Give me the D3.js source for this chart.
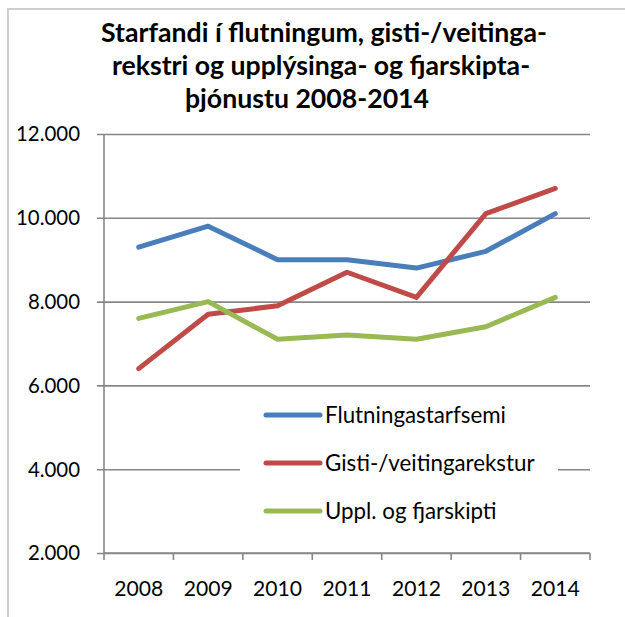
<!DOCTYPE html>
<html>
<head>
<meta charset="utf-8">
<script src="https://cdn.jsdelivr.net/npm/d3@7"></script>
<style>
  html, body { margin: 0; padding: 0; background: #fff; }
  svg { display: block; }
  text { font-family: Lato, "Open Sans", "Liberation Sans", sans-serif; fill: #000; }
</style>
</head>
<body>
<svg id="chart" width="625" height="617"></svg>
<script>
// ---- data ----
const titleLines = ["Starfandi í flutningum, gisti-/veitinga-", "rekstri og upplýsinga- og fjarskipta-", "þjónustu 2008-2014"];
const years = ["2008", "2009", "2010", "2011", "2012", "2013", "2014"];
const seriesNames = ["Flutningastarfsemi", "Gisti-/veitingarekstur", "Uppl. og fjarskipti"];
const flutningar = [9300, 9800, 9000, 9000, 8800, 9200, 10100];
const gisting = [6400, 7700, 7900, 8700, 8100, 10100, 10700];
const fjarskipti = [7600, 8000, 7100, 7200, 7100, 7400, 8100];
const yTicks = [2000, 4000, 6000, 8000, 10000, 12000];
const colors = ["#4A7EBB", "#BE4B48", "#98B954"];

const series = [flutningar, gisting, fjarskipti].map((vals, i) => ({ name: seriesNames[i], values: vals, color: colors[i] }));

// ---- layout ----
const svg = d3.select("#chart");
const pLeft = 104, pRight = 590, pTop = 134, pBottom = 553;
const grid = "#878787";

// outer chart border (extends past the window on right/bottom)
svg.append("rect").attr("x", 8).attr("y", 9).attr("width", 640).attr("height", 640)
  .attr("fill", "#fff").attr("stroke", "#cfcfcf").attr("stroke-width", 2);

const x = d3.scaleBand().domain(years).range([pLeft, pRight]);
const y = d3.scaleLinear().domain([2000, 12000]).range([pBottom, pTop]);

function fitSize(str, weight, targetWidth) {
  const t = svg.append("text").attr("font-size", 20).attr("font-weight", weight).text(str);
  const w = t.node().getComputedTextLength();
  t.remove();
  return 20 * targetWidth / w;
}
const titleSize = fitSize(titleLines[0], "bold", 446);
const tickSize = fitSize("2008", "normal", 49);
const yTickSize = fitSize("12.000", "normal", 64);
const legendSize = fitSize(seriesNames[0], "normal", 181);

// title
const titleCenters = [324, 321, 307];
const titleBaselines = [42, 75, 108];
svg.append("g").selectAll("text").data(titleLines).join("text")
  .attr("x", (d, i) => titleCenters[i]).attr("y", (d, i) => titleBaselines[i])
  .attr("text-anchor", "middle").attr("font-weight", "bold").attr("font-size", titleSize)
  .text(d => d);

// y axis with gridlines
const yAxis = d3.axisLeft(y).tickValues(yTicks).tickSize(-(pRight - pLeft)).tickPadding(24)
  .tickFormat(d => d3.format(",")(d).replace(/,/g, "."));
const gy = svg.append("g").attr("transform", `translate(${pLeft},0)`).call(yAxis);
gy.select(".domain").remove();
gy.selectAll(".tick line").attr("x1", -7).attr("stroke", grid).attr("stroke-width", 1.6);
gy.selectAll(".tick text").attr("font-size", yTickSize).attr("dy", "0.34em")
  .style("font-family", "Lato, 'Open Sans', sans-serif");

// vertical axis line
svg.append("line").attr("x1", pLeft).attr("x2", pLeft).attr("y1", pTop).attr("y2", pBottom)
  .attr("stroke", grid).attr("stroke-width", 1.6);

// x axis
const xAxis = d3.axisBottom(x).tickSize(0).tickPadding(30);
const gx = svg.append("g").attr("transform", `translate(0,${pBottom})`).call(xAxis);
gx.select(".domain").remove();
gx.selectAll(".tick text").attr("font-size", tickSize).attr("dy", "0.6em")
  .style("font-family", "Lato, 'Open Sans', sans-serif");
// category boundary ticks
const boundaries = years.map(d => x(d)).concat([x(years[years.length - 1]) + x.bandwidth()]);
svg.append("g").selectAll("line").data(boundaries).join("line")
  .attr("x1", d => d).attr("x2", d => d).attr("y1", pBottom).attr("y2", pBottom + 7)
  .attr("stroke", grid).attr("stroke-width", 1.6);
svg.append("line").attr("x1", pLeft).attr("x2", pRight).attr("y1", pBottom).attr("y2", pBottom)
  .attr("stroke", grid).attr("stroke-width", 1.6);

// lines
const line = d3.line().x((d, i) => x(years[i]) + x.bandwidth() / 2).y(d => y(d));
svg.append("g").selectAll("path").data(series).join("path")
  .attr("d", d => line(d.values)).attr("fill", "none")
  .attr("stroke", d => d.color).attr("stroke-width", 5)
  .attr("stroke-linecap", "round").attr("stroke-linejoin", "round");

// legend
const lg = svg.append("g");
lg.append("rect").attr("x", 240).attr("y", 392).attr("width", 318).attr("height", 142).attr("fill", "#fff");
const rowY = [415, 463, 511];
const rows = lg.selectAll("g.row").data(series).join("g").attr("class", "row")
  .attr("transform", (d, i) => `translate(0,${rowY[i]})`);
rows.append("line").attr("x1", 266).attr("x2", 320).attr("y1", 0).attr("y2", 0)
  .attr("stroke", d => d.color).attr("stroke-width", 5).attr("stroke-linecap", "round");
rows.append("text").attr("x", 325).attr("y", 0).attr("dy", "0.36em")
  .attr("font-size", legendSize).text(d => d.name);
</script>
</body>
</html>
